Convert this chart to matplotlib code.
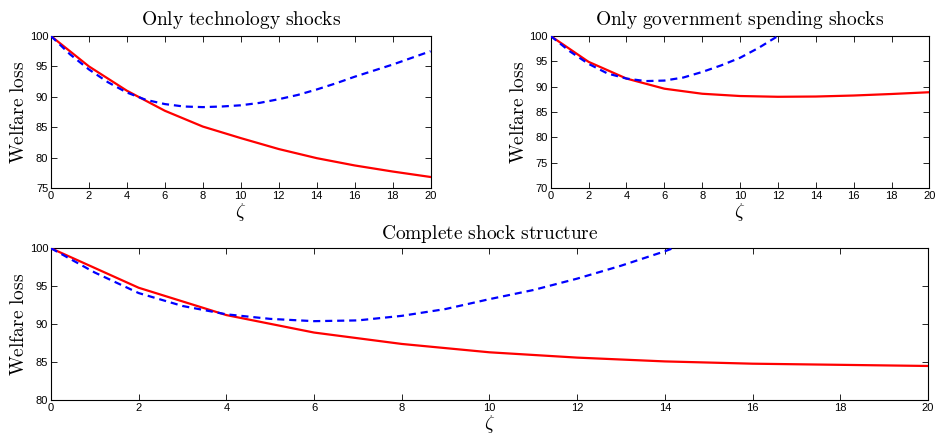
import matplotlib
matplotlib.use('Agg')
import matplotlib.pyplot as plt

plt.rcParams['font.family'] = ['Liberation Sans', 'DejaVu Sans']
plt.rcParams['mathtext.fontset'] = 'cm'

zeta = [0, 2, 4, 6, 8, 10, 12, 14, 16, 18, 20]
zeta_fine = list(range(0, 21))

# technology shocks only
tech_red = [100, 95.0, 91.0, 87.7, 85.1, 83.2, 81.4, 79.9, 78.7, 77.7, 76.8]
tech_blue = [100, 97.0, 94.5, 92.4, 90.7, 89.5, 88.8, 88.4, 88.3, 88.4, 88.6,
             89.0, 89.6, 90.3, 91.2, 92.2, 93.3, 94.3, 95.3, 96.4, 97.5]

# government spending shocks only
gov_red = [100, 94.9, 91.6, 89.6, 88.6, 88.15, 88.0, 88.05, 88.25, 88.55, 88.9]
gov_blue = [100, 97.0, 94.5, 92.6, 91.6, 91.1, 91.2, 91.8, 92.9, 94.2, 95.7,
            97.7, 100.0, 102.5, 105.2, 108.0, 111.0, 114.2, 117.6, 121.2, 125.0]

# complete shock structure
all_red = [100, 94.8, 91.2, 88.9, 87.4, 86.3, 85.6, 85.1, 84.8, 84.65, 84.5]
all_blue = [100, 96.8, 94.1, 92.4, 91.3, 90.7, 90.4, 90.5, 91.1, 92.0, 93.3,
            94.5, 96.0, 97.7, 99.6, 101.8, 104.2, 106.8, 109.6, 112.6, 115.8]

titles = ['Only technology shocks', 'Only government spending shocks',
          'Complete shock structure']
ylims = [(75, 100), (70, 100), (80, 100)]
yticks = [range(75, 101, 5), range(70, 101, 5), range(80, 101, 5)]


def cm(text):
    # render plain words in computer modern roman
    return r'$\mathrm{' + text.replace(' ', r'\ ') + '}$'


fig = plt.figure(figsize=(9.35, 4.34), dpi=100)
axes = [
    fig.add_axes([0.0545, 0.567, 0.406, 0.350]),
    fig.add_axes([0.589, 0.567, 0.405, 0.350]),
    fig.add_axes([0.0545, 0.078, 0.938, 0.350]),
]
reds = [tech_red, gov_red, all_red]
blues = [tech_blue, gov_blue, all_blue]

for i, ax in enumerate(axes):
    ax.plot(zeta, reds[i], color='#ff0000', lw=1.6, zorder=3)
    ax.plot(zeta_fine, blues[i], color='#0000ff', lw=1.6, ls=(0, (3.2, 2.2)), zorder=3)
    ax.set_xlim(0, 20)
    ax.set_ylim(*ylims[i])
    ax.set_xticks(range(0, 21, 2))
    ax.set_yticks(list(yticks[i]))
    ax.tick_params(direction='in', length=4, width=0.6, top=True, right=True,
                   labelsize=8, pad=2)
    for s in ax.spines.values():
        s.set_linewidth(0.8)
    ax.set_title(cm(titles[i]), fontsize=14, pad=8 if i < 2 else 7)
    ax.set_ylabel(cm('Welfare loss'), fontsize=14, labelpad=1)
    ax.set_xlabel(r'$\zeta$', fontsize=14, labelpad=0)

fig.savefig('out.png', dpi=100)
